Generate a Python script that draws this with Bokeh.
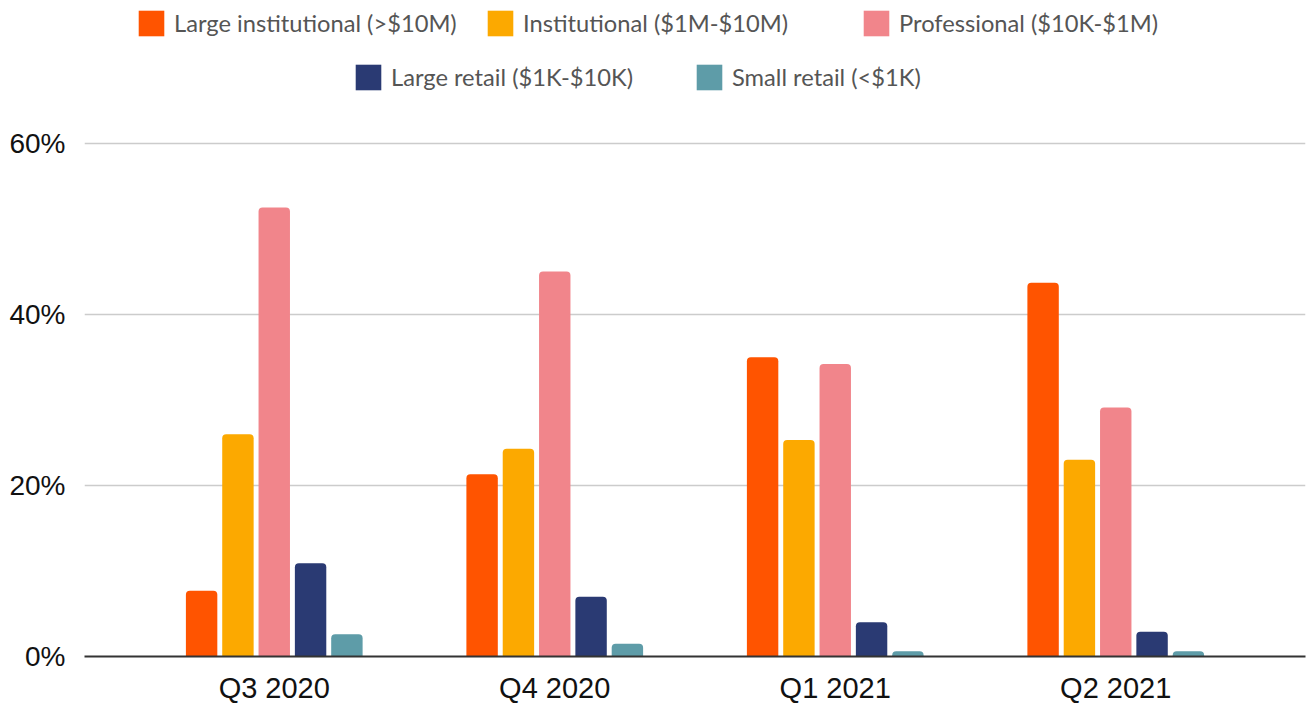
from bokeh.plotting import figure
from bokeh.models import (ColumnDataSource, FactorRange, Range1d, FixedTicker,
                          PrintfTickFormatter, Legend, LegendItem)
from bokeh.transform import dodge
from bokeh.embed import file_html
from bokeh.resources import INLINE

quarters = ["Q3 2020", "Q4 2020", "Q1 2021", "Q2 2021"]
large_institutional = [7.7, 21.3, 35.0, 43.7]
institutional = [26.0, 24.3, 25.3, 23.0]
professional = [52.5, 45.0, 34.2, 29.1]
large_retail = [10.9, 7.0, 4.0, 2.9]
small_retail = [2.6, 1.5, 0.6, 0.6]

series_labels = ["Large institutional (>$10M)", "Institutional ($1M-$10M)",
                 "Professional ($10K-$1M)", "Large retail ($1K-$10K)",
                 "Small retail (<$1K)"]
series_keys = ["large_inst", "inst", "prof", "large_retail", "small_retail"]
colors = ["#FF5400", "#FCA900", "#F1858B", "#2A3A73", "#5E9CA8"]

source = ColumnDataSource(dict(
    quarter=quarters,
    large_inst=large_institutional,
    inst=institutional,
    prof=professional,
    large_retail=large_retail,
    small_retail=small_retail,
))

x_range = FactorRange(factors=quarters, range_padding=0.1765, range_padding_units="absolute")

p = figure(x_range=x_range, y_range=Range1d(0, 76.7), width=1307, height=706,
           output_backend="svg", toolbar_location=None,
           min_border_left=84, min_border_right=2, min_border_top=0, min_border_bottom=50)
p.outline_line_color = None
p.background_fill_color = "white"

pitch = 0.1295
bar_w = 0.112
renderers = []
for i, (key, col) in enumerate(zip(series_keys, colors)):
    r = p.vbar(x=dodge("quarter", (i - 2) * pitch, range=p.x_range), top=key, width=bar_w,
               source=source, fill_color=col, line_color=None, border_radius=(4, 4, 0, 0))
    renderers.append(r)

# axes
p.yaxis.ticker = FixedTicker(ticks=[0, 20, 40, 60])
p.yaxis.formatter = PrintfTickFormatter(format="%d%%")
p.yaxis.axis_line_color = None
p.yaxis.major_tick_line_color = None
p.yaxis.minor_tick_line_color = None
p.yaxis.major_label_standoff = 13
p.yaxis.major_label_text_font = "Liberation Sans"
p.yaxis.major_label_text_font_size = "28px"
p.yaxis.major_label_text_color = "#111111"

p.xaxis.axis_line_color = "#333333"
p.xaxis.axis_line_width = 2
p.xaxis.major_tick_line_color = None
p.xaxis.minor_tick_line_color = None
p.xaxis.major_label_standoff = 9
p.xaxis.major_label_text_font = "Liberation Sans"
p.xaxis.major_label_text_font_size = "29px"
p.xaxis.major_label_text_color = "#111111"

p.xgrid.grid_line_color = None
p.ygrid.grid_line_color = "#CCCCCC"
p.ygrid.grid_line_width = 1.5

# legends: one per item, positioned relative to the frame's bottom-left
positions = [(51, 617), (400, 617), (776, 617), (268, 563), (609, 563)]
for lab, r, loc in zip(series_labels, renderers, positions):
    lg = Legend(items=[LegendItem(label=lab, renderers=[r])], location=loc,
                orientation="horizontal", glyph_width=32, glyph_height=32,
                label_standoff=7, padding=0, margin=0, spacing=0,
                border_line_alpha=0, background_fill_alpha=0,
                label_text_font="Lato", label_text_font_size="23.7px",
                label_text_color="#555555", label_height=32)
    p.add_layout(lg, "center")

open("out.html", "w").write(file_html(p, INLINE))
